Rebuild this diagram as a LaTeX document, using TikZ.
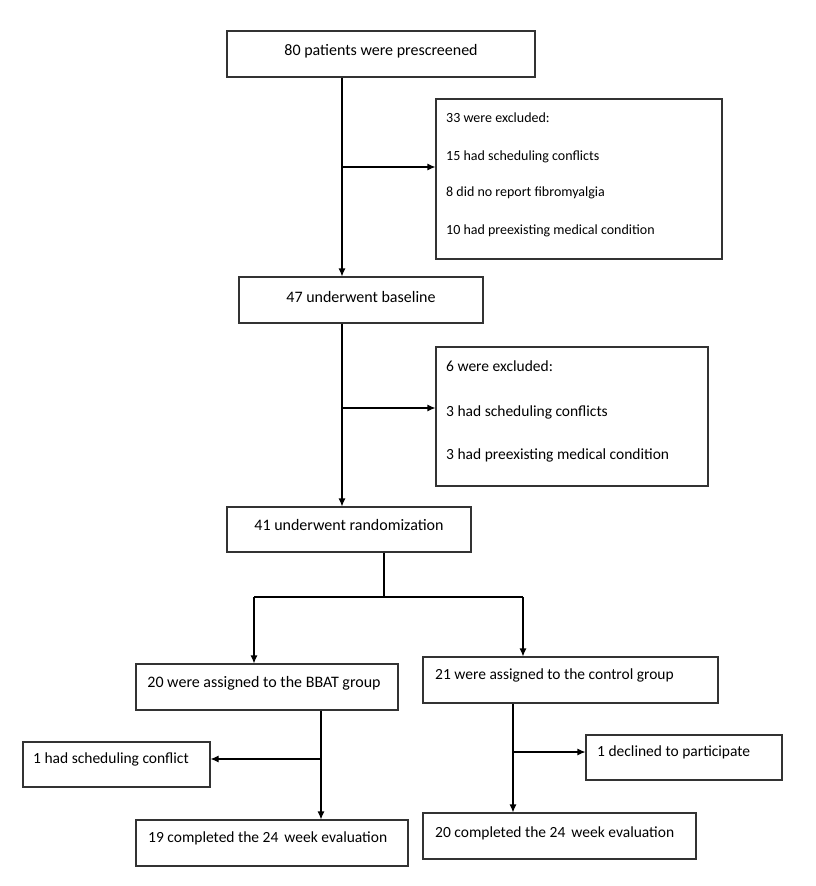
\documentclass[tikz,border=0pt]{standalone}
\usepackage{fontspec}
\setmainfont{Carlito}
\usetikzlibrary{arrows.meta}
\begin{document}
\begin{tikzpicture}[x=1pt,y=-1pt,
  box/.style={draw=black!80,line width=1.1pt,inner sep=0pt,minimum width=#1},
  txt/.style={inner sep=0pt,text=black,font=\fontsize{16}{18}\selectfont},
  smalltxt/.style={inner sep=0pt,text=black,anchor=west,font=\fontsize{14}{16}\selectfont},
  midtxt/.style={inner sep=0pt,text=black,anchor=west,font=\fontsize{15.5}{18}\selectfont},
  conn/.style={draw=black,line width=1.1pt},
  arr/.style={conn,-{Latex[length=8pt,width=7pt]}}]
\useasboundingbox[fill=white] (0,0) rectangle (816,886);
% boxes
\node[box=308pt,minimum height=46pt] (b1) at (381,54) {};
\node[box=286pt,minimum height=160pt] (b2) at (579,179) {};
\node[box=244pt,minimum height=46pt] (b3) at (361,300) {};
\node[box=272pt,minimum height=139pt] (b4) at (572,416.5) {};
\node[box=244pt,minimum height=45pt] (b5) at (349,529.5) {};
\node[box=262pt,minimum height=46pt] (b6) at (267,687) {};
\node[box=295pt,minimum height=46pt] (b7) at (570.5,680) {};
\node[box=187pt,minimum height=45pt] (b8) at (116.5,764.5) {};
\node[box=196pt,minimum height=45pt] (b9) at (684,757.5) {};
\node[box=272pt,minimum height=46pt] (b10) at (272,843) {};
\node[box=273pt,minimum height=46pt] (b11) at (559.5,836) {};
% texts
\node[txt] (t1) at (381,51) {80 patients were prescreened};
\node[smalltxt] (t2a) at (446,118) {33 were excluded:};
\node[smalltxt] (t2b) at (446,157) {15 had scheduling conflicts};
\node[smalltxt] (t2c) at (446,193) {8 did no report fibromyalgia};
\node[smalltxt] (t2d) at (446,231) {10 had preexisting medical condition};
\node[txt] (t3) at (361,297) {47 underwent baseline};
\node[midtxt] (t4a) at (446,366) {6 were excluded:};
\node[midtxt] (t4b) at (446,412) {3 had scheduling conflicts};
\node[midtxt] (t4c) at (446,455) {3 had preexisting medical condition};
\node[txt] (t5) at (349,525) {41 underwent randomization};
\node[txt] (t6) at (264,683) {20 were assigned to the BBAT group};
\node[midtxt] (t7) at (435,675) {21 were assigned to the control group};
\node[midtxt] (t8) at (33,759) {1 had scheduling conflict};
\node[midtxt] (t9) at (597,752) {1 declined to participate};
\node[midtxt] (t10) at (148,838) {19 completed the 24\, week evaluation};
\node[midtxt] (t11) at (435,833) {20 completed the 24\, week evaluation};
% connector coordinates
\coordinate (v1) at (342,0);
\coordinate (j1) at (342,167);
\coordinate (j2) at (342,408);
\coordinate (m) at (384,597);
\coordinate (bl) at (254,597);
\coordinate (br) at (523,597);
\coordinate (vl) at (321,0);
\coordinate (j3) at (321,759);
\coordinate (vr) at (513,0);
\coordinate (j4) at (513,752);
% connectors
\draw[arr] (v1 |- b1.south) -- (v1 |- b3.north);
\draw[arr] (j1) -- (j1 -| b2.west);
\draw[arr] (v1 |- b3.south) -- (v1 |- b5.north);
\draw[arr] (j2) -- (j2 -| b4.west);
\draw[conn] (m |- b5.south) -- (m);
\draw[conn] (bl) -- (br);
\draw[arr] (bl) -- (bl |- b6.north);
\draw[arr] (br) -- (br |- b7.north);
\draw[arr] (vl |- b6.south) -- (vl |- b10.north);
\draw[arr] (j3) -- (j3 -| b8.east);
\draw[arr] (vr |- b7.south) -- (vr |- b11.north);
\draw[arr] (j4) -- (j4 -| b9.west);
\end{tikzpicture}
\end{document}
